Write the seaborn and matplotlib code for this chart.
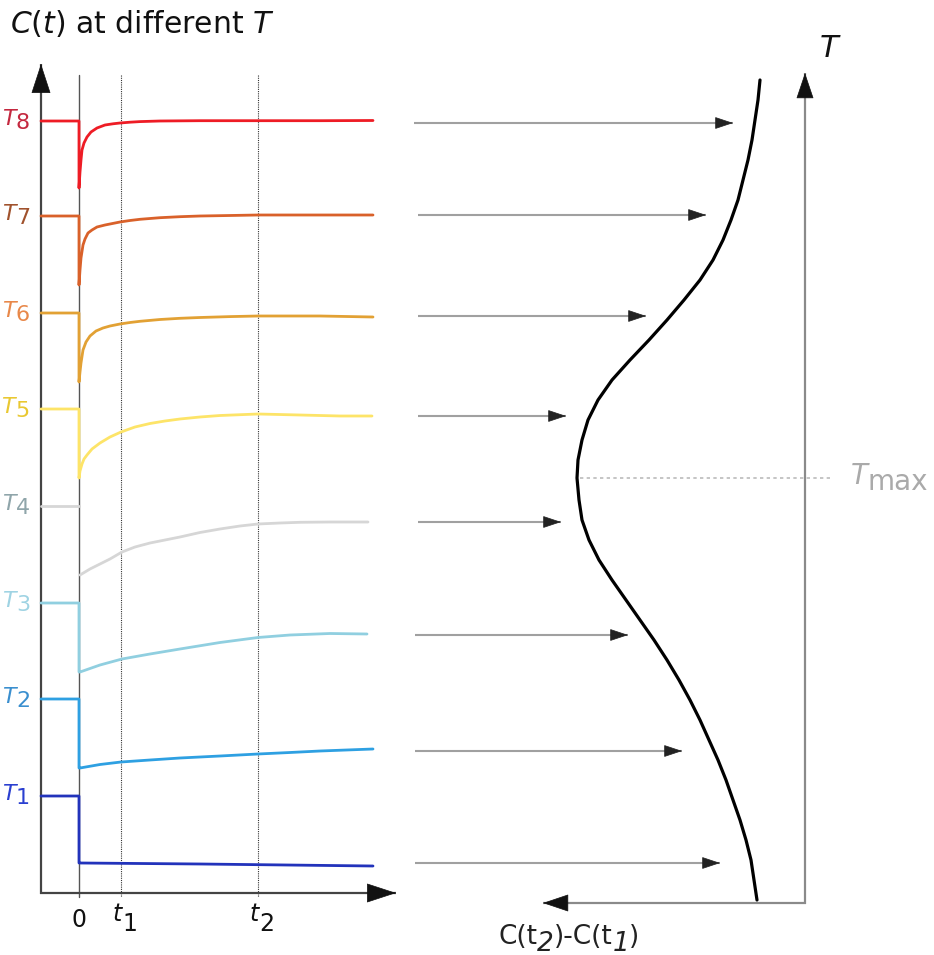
import numpy as np
import pandas as pd
import seaborn as sns
import matplotlib.pyplot as plt
from matplotlib.patches import FancyArrowPatch

# ---------------- data (drawing units) ----------------
series = ["T1", "T2", "T3", "T4", "T5", "T6", "T7", "T8"]
line_colors = ["#2233bb", "#2ea0e2", "#90cfe0", "#d6d6d6",
               "#fde468", "#e2a134", "#d9612a", "#ee1c25"]
label_colors = ["#2a3fd0", "#3a8fcf", "#9fd3e3", "#8fa5aa",
                "#e9c832", "#e8884a", "#a0522d", "#c4283f"]
start_level = [796, 699, 603, 506, 409, 313, 216, 121]

rec_x = {
    "T1": [79, 80, 200, 373],
    "T2": [79, 80, 100, 121, 150, 180, 220, 258, 290, 320, 373],
    "T3": [79, 80, 100, 122, 150, 180, 220, 258, 290, 330, 367],
    "T4": [80, 90, 100, 110, 122, 135, 150, 165, 180, 200, 220, 240, 258, 280, 300, 330, 368],
    "T5": [79, 80, 82, 84, 87, 92, 100, 110, 121, 135, 150, 165, 180, 200, 220, 258, 300, 340, 372],
    "T6": [79, 80, 81, 83, 86, 90, 96, 103, 110, 120, 130, 140, 160, 180, 200, 230, 258, 320, 373],
    "T7": [79, 80, 81, 83, 85, 88, 92, 97, 105, 120, 130, 140, 160, 180, 200, 230, 258, 320, 373],
    "T8": [79, 80, 81, 82, 84, 87, 91, 97, 105, 113, 120, 130, 140, 160, 200, 258, 320, 373],
}
rec_y = {
    "T1": [863, 863, 864, 866],
    "T2": [768, 768, 764.5, 762, 760, 758, 756, 754, 752.5, 751, 749],
    "T3": [672, 672, 665, 659, 654, 649, 642.5, 637.5, 635, 633.5, 634],
    "T4": [575, 569, 564, 559, 552, 547, 543, 540, 537, 532.5, 529, 526, 524, 523, 522.3, 522, 522],
    "T5": [478, 471, 464, 459, 455, 449, 443, 437, 432, 427, 423.5, 421, 419, 417, 415.5, 414, 415, 416, 416],
    "T6": [382, 372, 363, 350, 342, 336, 331, 328, 326, 324, 322.5, 321.3, 319.5, 318.3, 317.5, 316.6, 316, 316, 317],
    "T7": [285, 270, 258, 245, 239, 233, 230, 227, 225, 222, 220.5, 219.3, 217.7, 216.7, 216, 215.5, 215, 215, 215],
    "T8": [188, 172, 160, 150, 143, 137, 132, 128, 125, 123.8, 123, 122.2, 121.6, 121, 120.7, 120.7, 120.7, 120.5],
}
detached = ["T4"]          # curve whose drop at t=0 is not drawn

# right panel: T (vertical) versus C(t2)-C(t1) (horizontal, growing to the left)
curve_T = [80, 100, 120, 140, 160, 180, 200, 220, 240, 260, 280, 300, 320, 340, 360,
           380, 400, 420, 440, 460, 478, 500, 520, 540, 560, 580, 600, 620, 640,
           660, 680, 700, 720, 740, 760, 780, 800, 820, 840, 860, 880, 900]
curve_C = [760, 758, 755, 752, 748, 743, 738, 731, 723, 713, 700, 684, 667, 649, 630,
           612, 598, 588, 582, 578, 577, 579, 582, 589, 599, 612, 626, 640, 654,
           667, 679, 690, 700, 709, 718, 726, 733, 740, 746, 751, 754, 757]
T_max = 478

arrow_y = [863, 751, 635, 522, 416, 316, 215, 123]
arrow_start = [415, 415, 415, 418, 418, 418, 418, 414]
arrow_end = [720, 682, 628, 561, 566, 646, 706, 733]

tick_pos = {"0": 79, "t1": 121, "t2": 258}

# ---------------- figure ----------------
sns.set_theme(style="white")
plt.rcParams["font.family"] = ["DejaVu Sans"]
plt.rcParams["mathtext.fontset"] = "dejavusans"

W, H = 934, 955
fig = plt.figure(figsize=(9.34, 9.55), dpi=100)
ax = fig.add_axes([0, 0, 1, 1])

rows = []
for name, lev in zip(series, start_level):
    xs, ys = rec_x[name], rec_y[name]
    seg = 1 if name in detached else 0
    rows += [(name, 0, 41, lev), (name, 0, 79, lev)]
    rows += [(name, seg, x, y) for x, y in zip(xs, ys)]
df = pd.DataFrame(rows, columns=["series", "seg", "x", "y"])

# guide lines
ax.plot([79, 79], [75, 897], color="#555555", lw=1.0, zorder=1)
ax.vlines([tick_pos["t1"], tick_pos["t2"]], 75, 897, colors="#333333",
          linestyles=(0, (1, 1)), lw=0.8, zorder=1)

sns.lineplot(data=df, x="x", y="y", hue="series", hue_order=series, units="seg",
             estimator=None, sort=False, palette=line_colors, linewidth=2.0,
             legend=False, ax=ax, zorder=3, solid_joinstyle="round")

sns.lineplot(x=curve_C, y=curve_T, sort=False, estimator=None, color="black",
             linewidth=2.3, ax=ax, zorder=3, solid_joinstyle="round")

ax.hlines(T_max, 580, 830, colors="#bbbbbb", linestyles=(0, (2, 2)), lw=1.2, zorder=2)


def arrow(p0, p1, lcolor, hcolor, lw, hl, hw, ms):
    ax.plot([p0[0], p1[0]], [p0[1], p1[1]], color=lcolor, lw=lw, zorder=2,
            solid_capstyle="butt")
    d = np.array(p1, float) - np.array(p0, float)
    d = d / np.hypot(*d)
    q0 = np.array(p1, float) - d * 2
    ax.add_patch(FancyArrowPatch(tuple(q0), tuple(p1),
                                 arrowstyle=f"-|>,head_length={hl},head_width={hw}",
                                 mutation_scale=ms, color=hcolor, lw=0.5,
                                 shrinkA=0, shrinkB=0, zorder=4))


# left axes
arrow((41, 894), (41, 64), "#444444", "#111111", 1.6, 1.1, 0.36, 18)
arrow((40, 893), (396, 893), "#444444", "#111111", 1.6, 1.1, 0.36, 18)
# right axes
arrow((805, 904), (805, 73), "#8a8a8a", "#111111", 1.6, 0.95, 0.32, 18)
arrow((806, 903), (543, 903), "#8a8a8a", "#111111", 1.6, 0.95, 0.32, 18)
# transfer arrows
for y, xs, xe in zip(arrow_y, arrow_start, arrow_end):
    arrow((xs, y), (xe, y), "#a0a0a0", "#222222", 1.5, 0.9, 0.3, 13)


# ---------------- text ----------------
def chain(pieces, x, y, color, size):
    """pieces: (text, style, dy in points relative to previous piece)"""
    t0 = ax.text(x, y, pieces[0][0], fontsize=size, color=color,
                 fontstyle=pieces[0][1], ha="left", va="baseline")
    prev = t0
    for txt, st, dy in pieces[1:]:
        prev = ax.annotate(txt, xy=(1, 0), xycoords=prev, xytext=(0, dy),
                           textcoords="offset points", fontsize=size, color=color,
                           fontstyle=st, ha="left", va="bottom")
    return t0


ax.text(10, 33, r"$C(t)$ at different $T$", fontsize=21.5, color="#111111",
        ha="left", va="baseline")

for name, lev, col in zip(series, start_level, label_colors):
    dig = ax.text(30, lev + 8, name[1], fontsize=16, color=col,
                  ha="right", va="baseline")
    ax.annotate("T", xy=(0, 0), xycoords=dig, xytext=(-0.5, 3),
                textcoords="offset points", fontsize=16, color=col,
                fontstyle="italic", ha="right", va="bottom")

ax.text(tick_pos["0"], 927, "0", fontsize=17, color="#111111", ha="center",
        va="baseline")
for key in ["t1", "t2"]:
    tt = ax.text(tick_pos[key] + 1, 921, "t", fontsize=17, color="#111111",
                 fontstyle="italic", ha="right", va="baseline")
    ax.annotate(key[1], xy=(1, 0), xycoords=tt, xytext=(0, -7),
                textcoords="offset points", fontsize=17, color="#111111",
                ha="left", va="bottom")

ax.text(820, 57, "T", fontsize=22, color="#111111", fontstyle="italic",
        ha="left", va="baseline")

chain([("T", "italic", 0), ("max", "normal", -4)], 851, 484, "#aaaaaa", 20)

chain([("C(t", "normal", 0), ("2", "italic", -5), (")-C(t", "normal", 5),
       ("1", "italic", -5), (")", "normal", 5)], 498, 944, "#222222", 19)

ax.set_xlim(0, W)
ax.set_ylim(H, 0)
ax.axis("off")

fig.savefig("out.png", dpi=100, facecolor="white")
